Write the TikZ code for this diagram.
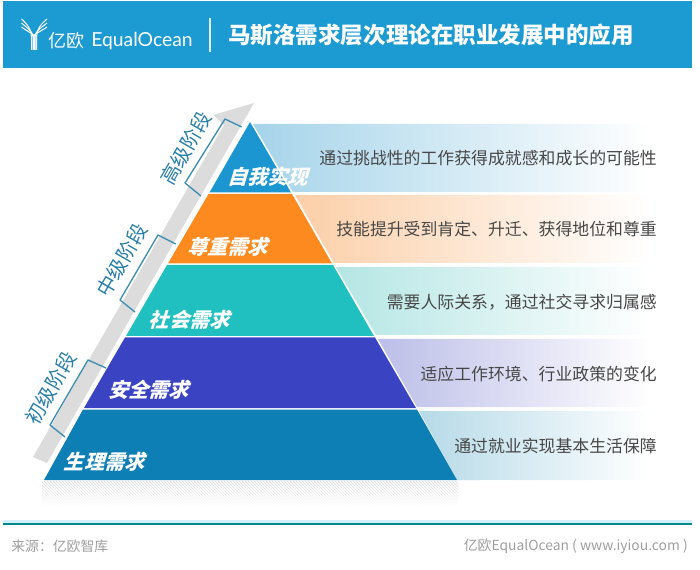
\documentclass[tikz,border=0pt]{standalone}
\usepackage{fontspec}
\setmainfont{Noto Sans CJK SC}
\newfontfamily\latofont{Lato}
\usetikzlibrary{fadings}
\definecolor{headblue}{HTML}{1C9BD2}
\definecolor{stageblue}{HTML}{2A7FA8}
\definecolor{brk}{HTML}{3C8DB0}
\definecolor{lvA}{HTML}{1B96D0}
\definecolor{lvB}{HTML}{FD8A1F}
\definecolor{lvC}{HTML}{20C0C0}
\definecolor{lvD}{HTML}{3A44C2}
\definecolor{lvE}{HTML}{0E7FB5}
\definecolor{pnA}{HTML}{A6D4EA}
\definecolor{pnB}{HTML}{FCCFA8}
\definecolor{pnC}{HTML}{B4E6E4}
\definecolor{pnD}{HTML}{BCBEE8}
\definecolor{pnE}{HTML}{B6DAE8}
\definecolor{arrowgray}{HTML}{DCDCDC}
\tikzfading[name=hatchfade, top color=transparent!100, bottom color=transparent!0]
\tikzset{
  lvlabel/.style={font=\fontsize{15.1}{15}\selectfont\bfseries, text=white, xslant=0.3, inner sep=0pt, anchor=center},
  desc/.style={font=\fontsize{12.65}{14}\selectfont, text=black!72, anchor=east, inner sep=0pt},
  stage/.style={font=\fontsize{15}{15}\selectfont, text=stageblue, rotate=60, inner sep=0pt, anchor=center},
  bracketline/.style={draw=brk, line width=1pt, line join=round},
  foot/.style={font=\fontsize{10.4}{12}\selectfont, text=black!38, inner sep=0pt},
  logoline/.style={draw=white, line width=0.75pt}
}
\begin{document}
\begin{tikzpicture}[x=0.75pt,y=-0.75pt]
\useasboundingbox (0,0) rectangle (700,570);
% header
\fill[headblue] (3,1) rectangle (692,68);
\foreach \i in {0,1,2}{
  \draw[logoline] ({31.5+\i*1.5},50) -- ({31.5+\i*1.5},37) .. controls ({31.5+\i*1.5},{30+\i*2}) and (28,{25+\i*3.5}) .. (21.5,{19+\i*4});
  \draw[logoline] ({36.5-\i*1.5},50) -- ({36.5-\i*1.5},37) .. controls ({36.5-\i*1.5},{30+\i*2}) and (40,{25+\i*3.5}) .. (47,{19+\i*4});
}
\node (logocn) [font=\fontsize{13.5}{14}\selectfont, text=white, inner sep=0pt, anchor=west] at (48,41) {亿欧};
\node (logoen) [font=\latofont\fontsize{14.5}{16}\selectfont, text=white, inner sep=0pt, anchor=west] at (91,41) {EqualOcean};
\draw[white!85!headblue, line width=1.2pt] (210,18) -- (210,52);
\node (title) [font=\fontsize{16.9}{18}\selectfont\bfseries, text=white, inner sep=0pt, anchor=west] at (228,35) {马斯洛需求层次理论在职业发展中的应用};
% gradient panels
\shade[left color=pnA, right color=white] (253,124) -- (650,124) -- (650,192) -- (293,192) -- cycle;
\shade[left color=pnB, right color=white] (295,195) -- (650,195) -- (650,263) -- (334,263) -- cycle;
\shade[left color=pnC, right color=white] (336,267) -- (650,267) -- (650,335) -- (376,335) -- cycle;
\shade[left color=pnD, right color=white] (378,339) -- (650,339) -- (650,407) -- (417,407) -- cycle;
\shade[left color=pnE, right color=white] (419,411) -- (650,411) -- (650,480) -- (457,480) -- cycle;
% gray arrow
\fill[arrowgray] (33,457) -- (47,463) -- (241.5,125) -- (254,103) -- (213,115) -- (224,125) -- cycle;
% brackets
\draw[bracketline] (241.7,127) -- (225,119) -- (185,183) -- (201,196);
\draw[bracketline] (175.7,244) -- (158,235) -- (120,300) -- (135,312);
\draw[bracketline] (106,368) -- (88,360) -- (50,425) -- (65,437);
% pyramid
\fill[lvA] (250,122) -- (291,192.5) -- (209.5,192.5) -- cycle;
\fill[lvB] (208.5,194) -- (292,194) -- (332,263.5) -- (168,263.5) -- cycle;
\fill[lvC] (167,265) -- (333,265) -- (374,336) -- (126,336) -- cycle;
\fill[lvD] (125,337.5) -- (375,337.5) -- (416,408) -- (84,408) -- cycle;
\fill[lvE] (83,409.5) -- (417,409.5) -- (457,480) -- (44,480) -- cycle;
% hatch below
\begin{scope}
\clip (42,481) rectangle (458,505);
\foreach \k in {0,...,150}{
  \draw[black!13, line width=0.6pt] ({20+\k*3},481) -- ({44+\k*3},505);
}
\end{scope}
\fill[white, path fading=hatchfade] (40,480.5) rectangle (460,506);
% level labels
\node (l1) [lvlabel] at (270,177) {自我实现};
\node (l2) [lvlabel] at (230,247) {尊重需求};
\node (l3) [lvlabel] at (191.5,320) {社会需求};
\node (l4) [lvlabel] at (151,390) {安全需求};
\node (l5) [lvlabel] at (106.5,462) {生理需求};
% descriptions
\node (d1) [desc] at (657,158) {通过挑战性的工作获得成就感和成长的可能性};
\node (d2) [desc] at (657,229) {技能提升受到肯定、升迁、获得地位和尊重};
\node (d3) [desc] at (657,302) {需要人际关系，通过社交寻求归属感};
\node (d4) [desc] at (657,374) {适应工作环境、行业政策的变化};
\node (d5) [desc] at (657,446) {通过就业实现基本生活保障};
% stage labels
\node (s1) [stage] at (186,148) {高级阶段};
\node (s2) [stage] at (122,260) {中级阶段};
\node (s3) [stage] at (51,388) {初级阶段};
% footer
\fill[cyan!18] (3,520) rectangle (692,523.5);
\draw[black!30!teal!70!cyan, line width=1pt] (3,524) -- (692,524);
\node (f1) [foot, anchor=west] at (11,546) {来源：亿欧智库};
\node (f2) [foot, anchor=east] at (688,546) {亿欧EqualOcean ( www.iyiou.com )};
\end{tikzpicture}
\end{document}
